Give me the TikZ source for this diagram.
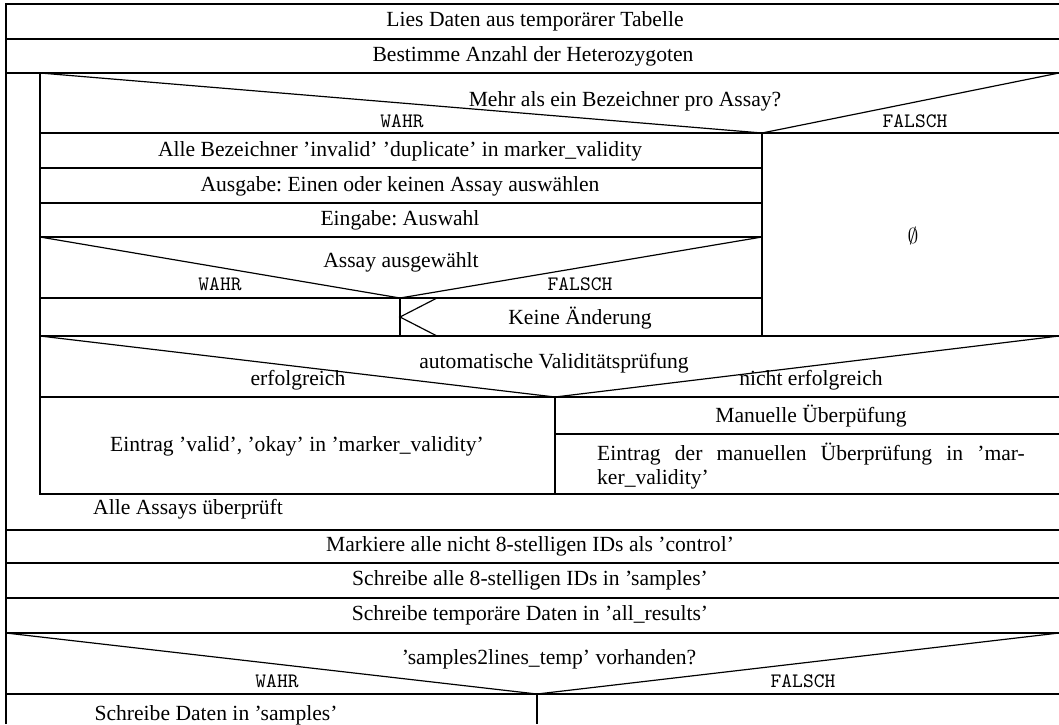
\documentclass[tikz,border=0pt]{standalone}
\usepackage{fontspec}
\setmainfont{Liberation Serif}
\usetikzlibrary{positioning}
\frenchspacing

\begin{document}
\begin{tikzpicture}[
    x=0.463pt, y=-0.463pt,
    ns_line/.style={
        draw=black,
        line width=0.9pt
    },
    ns_diag/.style={
        draw=black,
        line width=0.55pt
    },
    ns_text/.style={
        font=\fontsize{10}{11}\selectfont,
        inner sep=0pt
    },
    ns_tf/.style={
        font=\ttfamily\fontsize{9.5}{11}\selectfont,
        inner sep=0pt
    }
]
    \useasboundingbox (0,0) rectangle (1059,724);

    % ====== Rahmen und Anweisungen oben ======
    \draw[ns_line] (6,724) -- (6,4) -- (1059,4);
    \draw[ns_line] (6,39) -- (1059,39);
    \draw[ns_line] (6,73) -- (1059,73);
    \node[ns_text] (lies) at (535,21) {Lies Daten aus temporärer Tabelle};
    \node[ns_text] (bestimme) at (533,56) {Bestimme Anzahl der Heterozygoten};

    % ====== Schleife über alle Assays ======
    \draw[ns_line] (40,73) -- (40,494) -- (1059,494);

    % Verzweigung: mehr als ein Bezeichner
    \draw[ns_diag] (40,73) -- (762,133) -- (1059,73);
    \draw[ns_line] (40,133) -- (1059,133);
    \node[ns_text] (mehr) at (625,101) {Mehr als ein Bezeichner pro Assay?};
    \node[ns_tf] (wahr_a) at (402,121) {WAHR};
    \node[ns_tf] (falsch_a) at (915,121) {FALSCH};

    % WAHR-Zweig
    \draw[ns_line] (762,133) -- (762,336);
    \draw[ns_line] (40,168) -- (762,168);
    \draw[ns_line] (40,203) -- (762,203);
    \draw[ns_line] (40,237) -- (762,237);
    \node[ns_text] (alle_bez) at (400,151) {Alle Bezeichner 'invalid' 'duplicate' in marker\_validity};
    \node[ns_text] (ausgabe) at (400,186) {Ausgabe: Einen oder keinen Assay auswählen};
    \node[ns_text] (eingabe) at (400,220) {Eingabe: Auswahl};

    % Verzweigung: Assay ausgewählt
    \draw[ns_diag] (40,237) -- (400,298) -- (762,237);
    \draw[ns_line] (40,298) -- (762,298);
    \node[ns_text] (assay_aus) at (401,262) {Assay ausgewählt};
    \node[ns_tf] (wahr_b) at (220,284) {WAHR};
    \node[ns_tf] (falsch_b) at (580,284) {FALSCH};
    \draw[ns_line] (400,298) -- (400,336);
    \draw[ns_diag] (437,298) -- (400,317) -- (437,336);
    \node[ns_text] (keine) at (580,318) {Keine Änderung};

    % FALSCH-Zweig
    \node[ns_text] (leer_a) at (913,236) {$\emptyset$};

    % Verzweigung: automatische Prüfung
    \draw[ns_line] (40,336) -- (1059,336);
    \draw[ns_diag] (40,336) -- (555,397) -- (1059,336);
    \draw[ns_line] (40,397) -- (1059,397);
    \node[ns_text] (auto_val) at (554,363) {automatische Validitätsprüfung};
    \node[ns_text] (erfolg) at (298,380) {erfolgreich};
    \node[ns_text] (nicht_erfolg) at (811,380) {nicht erfolgreich};
    \draw[ns_line] (555,397) -- (555,494);
    \draw[ns_line] (555,434) -- (1059,434);
    \node[ns_text] (eintrag_valid) at (297,446) {Eintrag 'valid', 'okay' in 'marker\_validity'};
    \node[ns_text] (manuell) at (811,416) {Manuelle Überpüfung};
    \node[ns_text, text width=198pt, align=left] (eintrag_man) at (811,466)
        {Eintrag\hfill der\hfill manuellen\hfill Überprüfung\hfill in\hfill 'mar-\\ker\_validity'};

    % Schleifenende
    \node[ns_text] (alle_assays) at (188,509) {Alle Assays überprüft};

    % ====== Anweisungen unten ======
    \draw[ns_line] (6,530) -- (1059,530);
    \draw[ns_line] (6,563) -- (1059,563);
    \draw[ns_line] (6,598) -- (1059,598);
    \draw[ns_line] (6,633) -- (1059,633);
    \node[ns_text] (markiere) at (530,546) {Markiere alle nicht 8-stelligen IDs als 'control'};
    \node[ns_text] (schreibe_ids) at (530,580) {Schreibe alle 8-stelligen IDs in 'samples'};
    \node[ns_text] (schreibe_temp) at (530,615) {Schreibe temporäre Daten in 'all\_results'};

    % Verzweigung: samples2lines_temp
    \draw[ns_diag] (6,633) -- (537,694) -- (1059,633);
    \draw[ns_line] (6,694) -- (1059,694);
    \draw[ns_line] (537,694) -- (537,724);
    \node[ns_text] (samples_q) at (549,659) {'samples2lines\_temp' vorhanden?};
    \node[ns_tf] (wahr_c) at (277,681) {WAHR};
    \node[ns_tf] (falsch_c) at (803,681) {FALSCH};
    \node[ns_text] (schreibe_daten) at (216,715) {Schreibe Daten in 'samples'};

\end{tikzpicture}
\end{document}
